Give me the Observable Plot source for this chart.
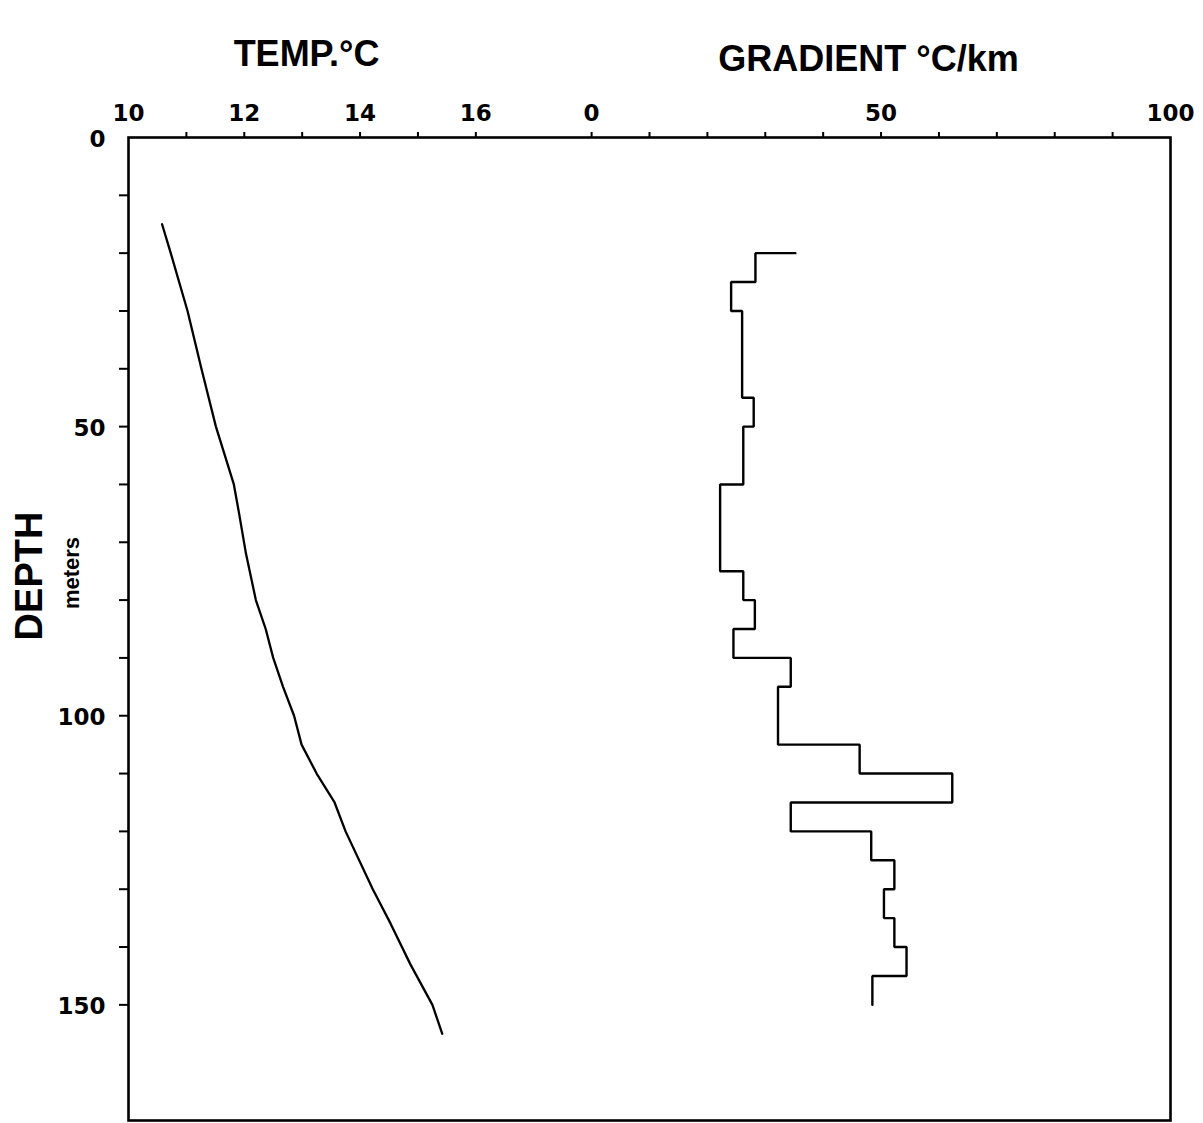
<!DOCTYPE html>
<html><head><meta charset="utf-8">
<script src="https://cdn.jsdelivr.net/npm/d3@7"></script>
<script src="https://cdn.jsdelivr.net/npm/@observablehq/plot@0.6"></script>
<style>body{margin:0;background:#fff} svg{display:block}</style>
</head><body><div id="chart"></div>
<script>
// Temperature profile (depth in m, temperature in °C)
const tempDepth = [15, 20, 30, 40, 50, 60, 65, 72, 80, 85, 90, 95, 100, 105, 110, 115, 120, 130, 136, 143, 150, 155];
const tempValue = [10.58, 10.73, 11.02, 11.26, 11.51, 11.82, 11.91, 12.03, 12.20, 12.37, 12.50, 12.67, 12.86, 12.99, 13.25, 13.56, 13.75, 14.22, 14.53, 14.87, 15.25, 15.42];

// Gradient profile (°C/km) per depth interval
const gradTop    = [20, 25, 30, 45, 50, 60, 75, 80, 85, 90, 95, 105, 110, 115, 120, 125, 130, 135, 140, 145];
const gradBottom = [25, 30, 45, 50, 60, 75, 80, 85, 90, 95, 105, 110, 115, 120, 125, 130, 135, 140, 145, 150];
const gradValue  = [28.3, 24.1, 26.0, 28.0, 26.2, 22.2, 26.2, 28.2, 24.5, 34.4, 32.2, 46.3, 62.3, 34.4, 48.3, 52.3, 50.5, 52.3, 54.4, 48.5];
const gradStart = 35.2;

// Axis ticks
const tempTickLabels = [10, 12, 14, 16];
const tempMinorTicks = [11, 12, 13, 14, 15, 16];
const gradTickLabels = [0, 50, 100];
const gradMinorTicks = [0, 10, 20, 30, 40, 50, 60, 70, 80, 90];
const depthTickLabels = [0, 50, 100, 150];
const depthMinorTicks = [10, 20, 30, 40, 50, 60, 70, 80, 90, 100, 110, 120, 130, 140, 150];

// Shared horizontal scale: temperature 10–18 °C, then gradient 0–100 °C/km
const tx = t => t - 10;
const gx = g => 8 + g / 10;

const tempData = tempDepth.map((d, i) => ({depth: d, temp: tempValue[i]}));
const gradData = [{depth: gradTop[0], g: gradStart}];
gradTop.forEach((t, i) => {
  gradData.push({depth: t, g: gradValue[i]});
  gradData.push({depth: gradBottom[i], g: gradValue[i]});
});

const tickFont = "DejaVu Sans";
const titleFont = "Liberation Sans";

const plot = Plot.plot({
  width: 1203,
  height: 1123,
  marginLeft: 128,
  marginRight: 33,
  marginTop: 137,
  marginBottom: 3,
  x: {domain: [0, 18], axis: null},
  y: {domain: [0, 170], reverse: true, axis: null},
  style: {background: "#fff", color: "#000"},
  marks: [
    Plot.axisX({anchor: "top", ticks: [...tempMinorTicks.map(tx), ...gradMinorTicks.map(gx)], tickSize: 6, tickFormat: () => "", strokeWidth: 2, label: null}),
    Plot.axisY({anchor: "left", ticks: depthMinorTicks, tickSize: 9, tickFormat: () => "", strokeWidth: 2, label: null}),
    Plot.frame({stroke: "#000", strokeWidth: 2.6}),
    Plot.text(tempTickLabels, {x: tx, text: d => String(d), frameAnchor: "top", dy: -33, fontSize: 23, fontWeight: "bold", fontFamily: tickFont}),
    Plot.text(gradTickLabels, {x: gx, text: d => String(d), frameAnchor: "top", dy: -33, fontSize: 23, fontWeight: "bold", fontFamily: tickFont}),
    Plot.text(depthTickLabels, {y: d => d, text: d => String(d), frameAnchor: "left", textAnchor: "end", dx: -23, dy: 2, fontSize: 23, fontWeight: "bold", fontFamily: tickFont}),
    Plot.text(["TEMP.°C"], {frameAnchor: "top-left", textAnchor: "middle", dx: 178, dy: -97, fontSize: 36, fontWeight: "bold", fontFamily: titleFont}),
    Plot.text(["GRADIENT °C/km"], {frameAnchor: "top-left", textAnchor: "middle", dx: 740, dy: -92, fontSize: 36, fontWeight: "bold", fontFamily: titleFont}),
    Plot.text(["DEPTH"], {frameAnchor: "left", textAnchor: "middle", rotate: -90, dx: -99, dy: -53, fontSize: 38, fontWeight: "bold", fontFamily: titleFont}),
    Plot.text(["meters"], {frameAnchor: "left", textAnchor: "middle", rotate: -90, dx: -57, dy: -56, fontSize: 22, fontWeight: "bold", fontFamily: titleFont}),
    Plot.line(tempData, {x: d => tx(d.temp), y: "depth", stroke: "#000", strokeWidth: 2.3}),
    Plot.line(gradData, {x: d => gx(d.g), y: "depth", stroke: "#000", strokeWidth: 2.4, strokeLinejoin: "miter"})
  ]
});
document.getElementById("chart").appendChild(plot);
</script>
</body></html>
